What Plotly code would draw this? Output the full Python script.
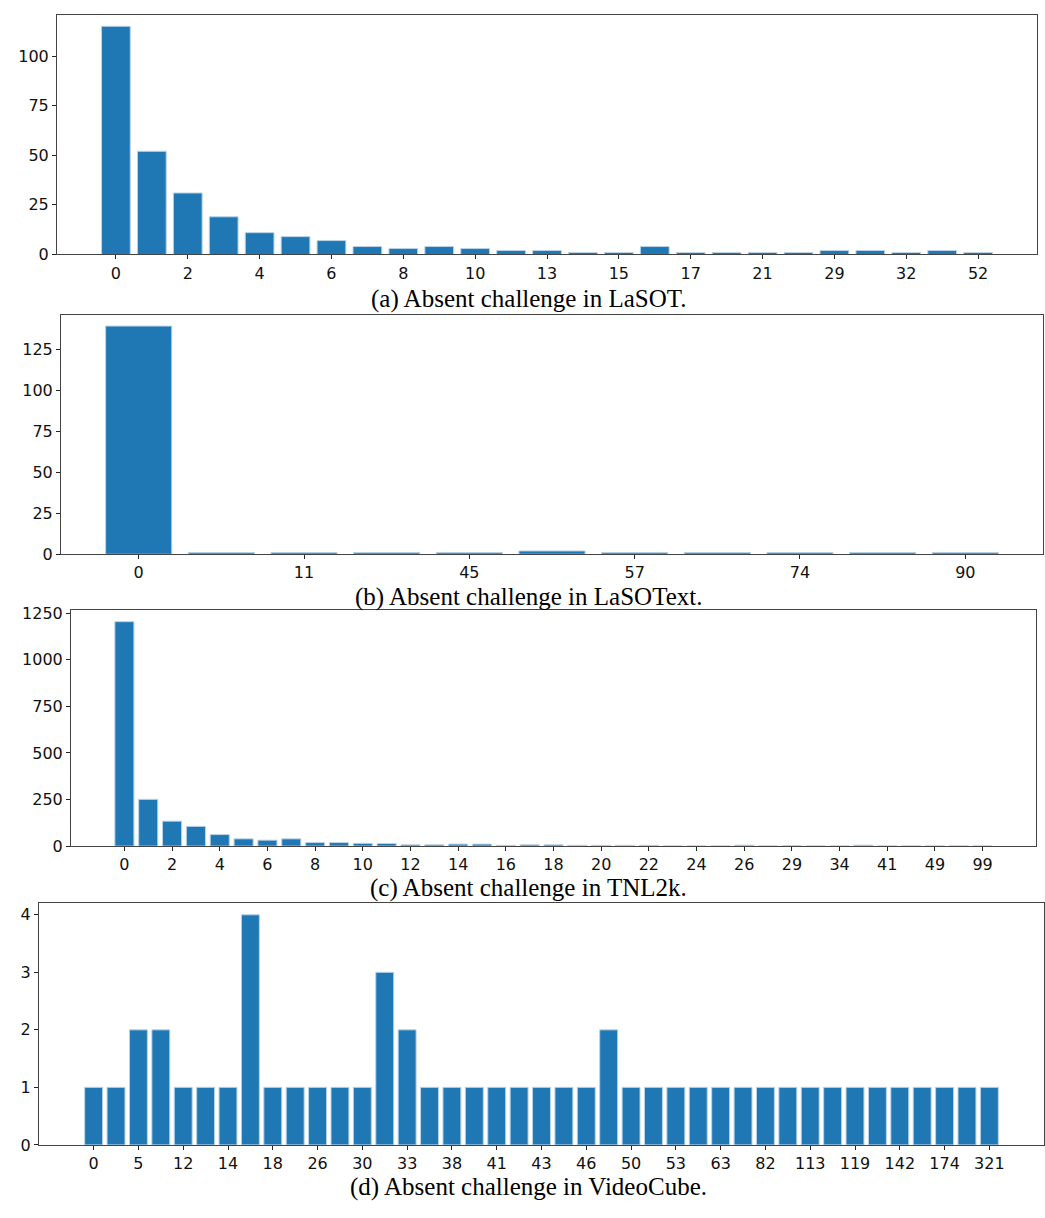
import plotly.graph_objects as go

W, H = 1045, 1218

# ---------------- data ----------------
lasot_cats = [0, 1, 2, 3, 4, 5, 6, 7, 8, 9, 10, 12, 13, 14, 15, 16, 17, 19, 21, 25, 29, 31, 32, 40, 52]
lasot_vals = [115, 52, 31, 19, 11, 9, 7, 4, 3, 4, 3, 2, 2, 1, 1, 4, 1, 1, 1, 1, 2, 2, 1, 2, 1]

lasotext_cats = [0, 5, 11, 30, 45, 50, 57, 65, 74, 80, 90]
lasotext_vals = [139, 1, 1, 1, 1, 2, 1, 1, 1, 1, 1]

tnl2k_cats = list(range(0, 27)) + [28, 29, 31, 34, 38, 41, 45, 49, 61, 99]
tnl2k_vals = [1205, 251, 134, 106, 62, 39, 32, 39, 19, 19, 15, 14, 7, 7, 11, 11, 4, 7, 7, 4,
              4, 4, 4, 1, 1, 1, 5, 1, 2, 1, 1, 5, 1, 1, 1, 1, 1]

videocube_cats = [0, 3, 5, 8, 12, 13, 14, 16, 18, 21, 26, 28, 30, 32, 33, 35, 38, 40, 41, 42, 43,
                  45, 46, 48, 50, 52, 53, 57, 63, 70, 82, 95, 113, 116, 119, 130, 142, 160, 174, 200, 321]
videocube_vals = [1, 1, 2, 2, 1, 1, 1, 4, 1, 1, 1, 1, 1, 3, 2, 1, 1, 1, 1, 1, 1,
                  1, 1, 2, 1, 1, 1, 1, 1, 1, 1, 1, 1, 1, 1, 1, 1, 1, 1, 1, 1]

captions = ["(a) Absent challenge in LaSOT.",
            "(b) Absent challenge in LaSOText.",
            "(c) Absent challenge in TNL2k.",
            "(d) Absent challenge in VideoCube."]
yticks = [[0, 25, 50, 75, 100],
          [0, 25, 50, 75, 100, 125],
          [0, 250, 500, 750, 1000, 1250],
          [0, 1, 2, 3, 4]]

# panel boxes in pixels: left, right, top, bottom
boxes = [(57, 1037, 8, 251),
         (61, 1043, 312, 555),
         (71, 1036, 612, 851),
         (39, 1044, 909, 1154)]
caption_y = [296, 598, 893, 1197]

panels = [(lasot_cats, lasot_vals), (lasotext_cats, lasotext_vals),
          (tnl2k_cats, tnl2k_vals), (videocube_cats, videocube_vals)]

fig = go.Figure()
tick_font = dict(family="DejaVu Sans", size=16, color="#111111")

for i, ((cats, vals), box, yt) in enumerate(zip(panels, boxes, yticks)):
    n = i + 1
    xa = "x" if n == 1 else f"x{n}"
    ya = "y" if n == 1 else f"y{n}"
    labels = [str(c) for c in cats]
    fig.add_trace(go.Bar(
        x=labels, y=vals, xaxis=xa, yaxis=ya,
        marker=dict(color="#1f77b4", line=dict(color="#b8d2e8", width=1)),
        showlegend=False, hoverinfo="x+y"))
    N = len(cats)
    m = 0.4 + 0.05 * (N - 1 + 0.8)
    l, r, t, b = box
    xkey = "xaxis" if n == 1 else f"xaxis{n}"
    ykey = "yaxis" if n == 1 else f"yaxis{n}"
    fig.update_layout(**{
        xkey: dict(
            domain=[l / W, r / W], anchor=ya, type="category",
            categoryorder="array", categoryarray=labels,
            range=[-m, N - 1 + m],
            tickmode="array", tickvals=labels[::2], ticktext=labels[::2],
            ticks="outside", ticklen=4, tickcolor="#222", tickwidth=1,
            showline=True, linecolor="#444", linewidth=1, mirror=True,
            showgrid=False, zeroline=False, tickfont=tick_font),
        ykey: dict(
            domain=[1 - b / H, 1 - t / H], anchor=xa,
            range=[0, max(vals) * 1.05],
            tickmode="array", tickvals=yt,
            ticks="outside", ticklen=4, tickcolor="#222", tickwidth=1,
            showline=True, linecolor="#444", linewidth=1, mirror=True,
            showgrid=False, zeroline=False, tickfont=tick_font),
    })
    fig.add_annotation(
        text=captions[i], xref="paper", yref="paper",
        x=528 / W, y=1 - caption_y[i] / H, xanchor="center", yanchor="middle",
        showarrow=False, font=dict(family="Liberation Serif", size=25, color="#000"))

fig.update_layout(
    width=W, height=H, margin=dict(l=0, r=0, t=0, b=0),
    paper_bgcolor="white", plot_bgcolor="white",
    bargap=0.2, showlegend=False)

fig.write_html("out.html", config={"displayModeBar": False},
               post_script="document.body.style.margin='0';document.body.style.overflow='hidden';")
